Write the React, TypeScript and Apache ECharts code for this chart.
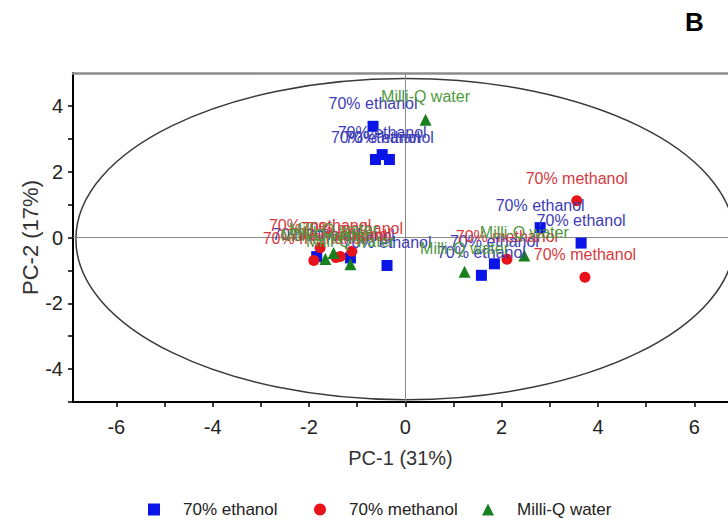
import React, { useEffect, useRef } from "react";
import * as echarts from "echarts";

const groupNames = ["70% ethanol", "70% methanol", "Milli-Q water"];
const ethanolPoints = [
  [-1.84, -0.58], [-1.14, -0.62], [-0.38, -0.85],
  [-0.67, 3.38], [-0.62, 2.37], [-0.48, 2.52], [-0.33, 2.37],
  [2.8, 0.3], [3.65, -0.17], [1.85, -0.8], [1.58, -1.15],
];
const methanolPoints = [
  [-1.9, -0.7], [-1.77, -0.31], [-1.44, -0.61], [-1.35, -0.58], [-1.11, -0.42],
  [3.56, 1.12], [2.11, -0.66], [3.73, -1.21],
];
const waterPoints = [
  [-1.66, -0.65], [-1.49, -0.47], [-1.14, -0.81],
  [0.42, 3.58], [2.47, -0.55], [1.23, -1.04],
];
// Hotelling T2 ellipse: centre x, centre y, semi-axis x, semi-axis y
const ellipseData = [[0, -0.05, 6.84, 4.88]];
const xTickValues = [-6, -5, -4, -3, -2, -1, 0, 1, 2, 3, 4, 5, 6];
const xLabelValues = [-6, -4, -2, 0, 2, 4, 6];
const yTickValues = [-5, -4, -3, -2, -1, 0, 1, 2, 3, 4];
const yLabelValues = [-4, -2, 0, 2, 4];
const xRange = [-6.9, 6.7];
const yRange = [-5, 5];

const markerColors = ["#0a14e6", "#e8121a", "#17801c"];
const labelColors = ["#3d3db8", "#d63a40", "#4e9a3e"];
const symbols = ["rect", "circle", "triangle"];
const FONT = "Liberation Sans, Arial, sans-serif";

export default function App() {
  const ref = useRef<HTMLDivElement>(null);
  useEffect(() => {
    if (!ref.current) return;
    const chart = echarts.init(ref.current, null, { renderer: "svg" });
    const groups = [ethanolPoints, methanolPoints, waterPoints];
    const scatterSeries = groups.map((pts, i) => ({
      type: "scatter",
      name: groupNames[i],
      data: pts,
      symbol: symbols[i],
      symbolSize: i === 2 ? 12 : 11,
      itemStyle: { color: markerColors[i], opacity: 1 },
      label: {
        show: true,
        position: "top",
        distance: 9,
        formatter: groupNames[i],
        color: labelColors[i],
        fontSize: 16,
        fontFamily: FONT,
      },
      z: 5,
    }));
    const legendLefts = [148, 314, 482];
    chart.setOption({
      animation: false,
      textStyle: { fontFamily: FONT },
      title: {
        text: "B",
        left: 685,
        top: 9,
        padding: 0,
        textStyle: { fontSize: 26, fontWeight: "bold", color: "#000", fontFamily: FONT },
      },
      legend: groupNames.map((n, i) => ({
        data: [{ name: n, icon: symbols[i] }],
        left: legendLefts[i],
        top: 501,
        padding: 0,
        itemWidth: 12,
        itemHeight: 12,
        textStyle: { fontSize: 17, color: "#222", padding: [0, 0, 0, 18], fontFamily: FONT },
      })),
      grid: { left: 73, right: 0, top: 73, bottom: 121 },
      xAxis: [
        {
          type: "value",
          min: xRange[0],
          max: xRange[1],
          name: "PC-1 (31%)",
          nameLocation: "middle",
          nameGap: 46,
          nameMoveOverlap: false,
          nameTextStyle: { fontSize: 20, color: "#333", fontFamily: FONT },
          axisLine: { show: true, onZero: false, lineStyle: { color: "#000", width: 2 } },
          axisTick: { show: true, length: 5, customValues: xTickValues, lineStyle: { color: "#000", width: 1.5 } },
          axisLabel: { customValues: xLabelValues, fontSize: 20, color: "#222", margin: 15, fontFamily: FONT },
          splitLine: { show: false },
        },
        {
          type: "value",
          position: "top",
          min: xRange[0],
          max: xRange[1],
          axisLine: { show: true, onZero: false, lineStyle: { color: "#8c8c8c", width: 2.5 } },
          axisTick: { show: false },
          axisLabel: { show: false },
          splitLine: { show: false },
        },
      ],
      yAxis: {
        type: "value",
        min: yRange[0],
        max: yRange[1],
        name: "PC-2 (17%)",
        nameLocation: "middle",
        nameGap: 32,
        nameRotate: 90,
        nameMoveOverlap: false,
        nameTextStyle: { fontSize: 22, color: "#333", fontFamily: FONT },
        axisLine: { show: true, onZero: false, lineStyle: { color: "#000", width: 2 } },
        axisTick: { show: true, length: 5, customValues: yTickValues, lineStyle: { color: "#000", width: 1.5 } },
        axisLabel: { customValues: yLabelValues, fontSize: 20, color: "#222", margin: 10, fontFamily: FONT },
        splitLine: { show: false },
      },
      series: [
        {
          type: "custom",
          name: "ellipse",
          data: ellipseData,
          encode: { x: 0, y: 1 },
          silent: true,
          z: 1,
          renderItem: (params: any, api: any) => {
            const c = api.coord([api.value(0), api.value(1)]);
            const s = api.size([api.value(2), api.value(3)]);
            return {
              type: "ellipse",
              shape: { cx: c[0], cy: c[1], rx: s[0], ry: s[1] },
              style: { fill: "none", stroke: "#3a3a3a", lineWidth: 1.5 },
            };
          },
          markLine: {
            silent: true,
            symbol: "none",
            label: { show: false },
            lineStyle: { color: "#8a8a8a", width: 1, type: "solid" },
            data: [{ xAxis: 0 }, { yAxis: 0 }],
          },
        },
        ...scatterSeries,
      ],
    });
    return () => chart.dispose();
  }, []);
  return (
    <div
      ref={ref}
      style={{ position: "fixed", left: 0, top: 0, width: 728, height: 523, background: "#fff" }}
    />
  );
}
